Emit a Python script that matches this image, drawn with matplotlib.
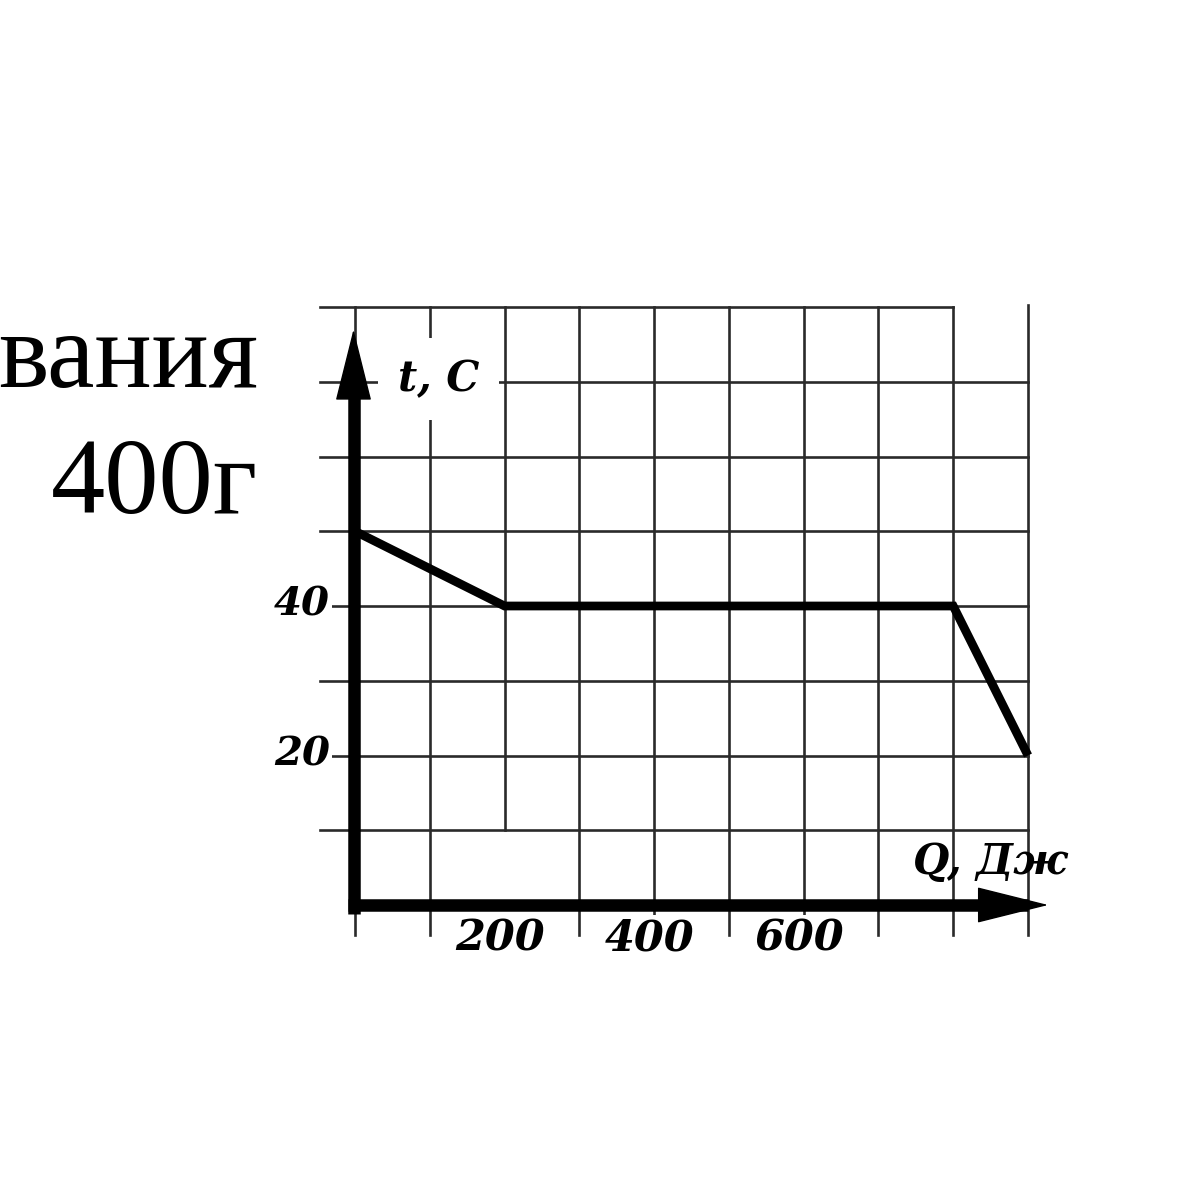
import matplotlib
matplotlib.use("Agg")
from matplotlib import pyplot as plt

# heat vs temperature curve (Q in J, t in C)
Q = [0, 200, 800, 900]
t = [50, 40, 40, 20]

x_ticks = [200, 400, 600]
y_ticks = [20, 40]
grid_x = [0, 100, 200, 300, 400, 500, 600, 700, 800, 900]
grid_y = [10, 20, 30, 40, 50, 60, 70, 80]

W, H = 1198, 1200
fig = plt.figure(figsize=(W / 100, H / 100), dpi=100)
ax = fig.add_axes([0, 0, 1, 1])

# pixel anchors of the grid in the picture: x=0 at 355px, x=900 at 1028px,
# t=0 at 905px from top, t=80 at 307px from top
px_x = (1028 - 355) / 900.0
px_y = (905 - 307) / 80.0
ax.set_xlim(-355 / px_x, (W - 355) / px_x)
ax.set_ylim(-(H - 905) / px_y, 905 / px_y)
ax.axis('off')

grid_kw = dict(color='#2a2a2a', lw=1.9, zorder=1)
for gy in grid_y:
    right = 800 if gy == 80 else 900
    ax.plot([-47, right], [gy, gy], **grid_kw)
for gx in grid_x:
    bottom = 10 if gx == 200 else -4
    ax.plot([gx, gx], [bottom, 80 if gx != 900 else 80.3], **grid_kw)

# axes: thick lines plus filled arrow heads
ax.plot([-2, -2], [-1.2, 68], color='black', lw=9, solid_capstyle='butt', zorder=4)
ax.plot([-10, 900], [0, 0], color='black', lw=9, solid_capstyle='butt', zorder=4)
head_kw = dict(arrowstyle='-|>,head_length=1.0,head_width=0.25', lw=1,
               color='black', mutation_scale=48, shrinkA=0, shrinkB=0)
ax.annotate('', xy=(-2, 77.0), xytext=(-2, 60), arrowprops=head_kw, zorder=4)
ax.annotate('', xy=(927, 0), xytext=(820, 0), arrowprops=head_kw, zorder=4)

# the curve
ax.plot(Q, t, color='black', lw=6.3, solid_capstyle='butt',
        solid_joinstyle='miter', zorder=3)

lab_font = dict(family='DejaVu Serif', weight='bold', style='italic')
box = dict(facecolor='white', edgecolor='none', pad=1.5)

for v in y_ticks:
    ax.annotate(str(v), xy=(0, v), xytext=(-38, 1), textcoords='offset points',
                ha='center', va='center', fontsize=29, bbox=box, zorder=2,
                **lab_font)
for v in x_ticks:
    ax.annotate(str(v), xy=(v, 0), xytext=(-3, -24), textcoords='offset points',
                ha='center', va='center', fontsize=31, bbox=box, zorder=2,
                **lab_font)

ax.annotate('t, C', xy=(0, 70), xytext=(60, 2), textcoords='offset points',
            ha='center', va='center', fontsize=30, zorder=2,
            bbox=dict(facecolor='white', edgecolor='none', pad=14), **lab_font)
ax.annotate('Q, Дж', xy=(900, 0), xytext=(-83, 31), textcoords='offset points',
            ha='left', va='center', fontsize=30, zorder=5, **lab_font)

# cut-off text from the page on the left
fig.text(258 / W, 1 - 387 / H, 'вания', ha='right', va='baseline',
         fontsize=77, family='Liberation Serif')
fig.text(258 / W, 1 - 513 / H, '400г', ha='right', va='baseline',
         fontsize=78, family='Liberation Serif')

fig.savefig('out.png', dpi=100, facecolor='white')
